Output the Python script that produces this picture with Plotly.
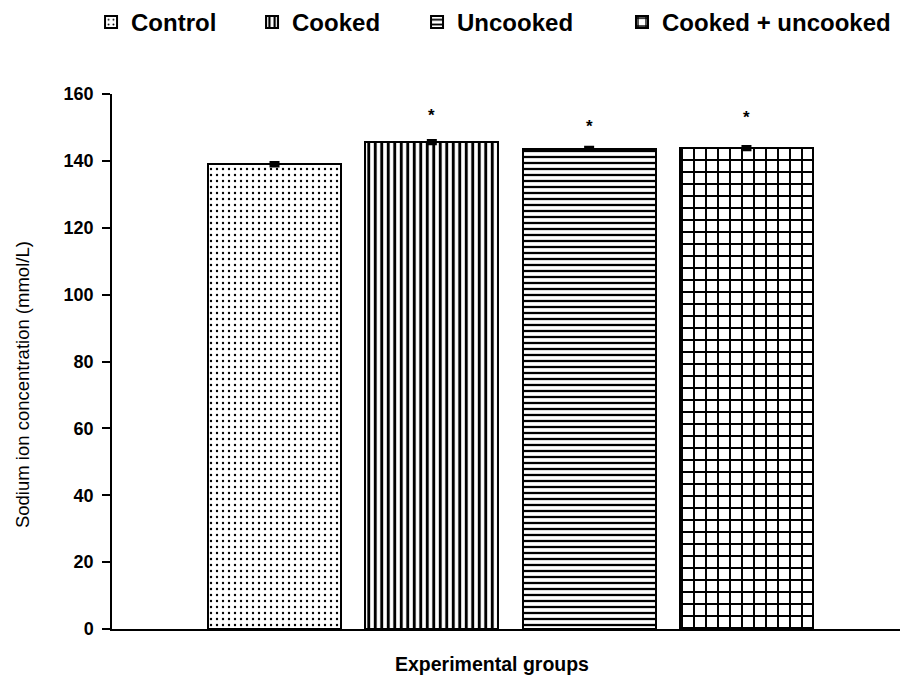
import plotly.graph_objects as go

groups = ["Control", "Cooked", "Uncooked", "Cooked + uncooked"]
sodium = [139.0, 145.6, 143.6, 143.8]
sodium_err = [0.5, 0.5, 0.5, 0.5]
significant = [False, True, True, True]
y_ticks = [0, 20, 40, 60, 80, 100, 120, 140, 160]
x_title = "Experimental groups"
y_title = "Sodium ion concentration (mmol/L)"

# styling
patterns = [".", "|", "-", "+"]
pat_size = [6, 6.5, 6, 12]
pat_solid = [0.12, 0.45, 0.38, 0.3]
star_offset = [0, 7.9, 6.6, 9.3]
legend_x = [-0.0266, 0.1777, 0.3871, 0.6472]
legend_names = ["legend", "legend2", "legend3", "legend4"]
FONT = "Liberation Sans"

fig = go.Figure()
for i, g in enumerate(groups):
    fig.add_trace(go.Bar(
        x=[i + 1], y=[sodium[i]], name=g, width=0.846, legend=legend_names[i],
        marker=dict(color="white",
                    line=dict(color="black", width=2),
                    pattern=dict(shape=patterns[i], fgcolor="black", bgcolor="white",
                                 size=pat_size[i], solidity=pat_solid[i], fillmode="replace")),
        error_y=dict(type="data", array=[sodium_err[i]], color="black", thickness=3, width=5),
    ))
    if significant[i]:
        fig.add_annotation(x=i + 1, y=sodium[i] + star_offset[i], text="<b>*</b>",
                           showarrow=False, font=dict(family=FONT, size=17, color="black"),
                           yanchor="middle")

# axis titles as annotations (placed as in the reference)
fig.add_annotation(xref="paper", yref="paper", x=0.482, y=-0.0654, text=x_title,
                   showarrow=False, xanchor="center", yanchor="middle",
                   font=dict(family=FONT, size=19.5, color="black", weight="bold"))
fig.add_annotation(xref="paper", yref="paper", x=-0.1142, y=0.456, text=y_title,
                   showarrow=False, xanchor="center", yanchor="middle", textangle=-90,
                   font=dict(family=FONT, size=18.5, color="black"))

legend_common = dict(orientation="v", xanchor="left", y=1.1336, yanchor="middle",
                     font=dict(family=FONT, size=24, color="black", weight="bold"),
                     bgcolor="rgba(0,0,0,0)", borderwidth=0)
layout_legends = {name: dict(x=legend_x[i], **legend_common) for i, name in enumerate(legend_names)}

fig.update_layout(
    width=901, height=681,
    margin=dict(l=112, r=1, t=94, b=52, autoexpand=False),
    plot_bgcolor="white", paper_bgcolor="white",
    font=dict(family=FONT, color="black"),
    showlegend=True,
    bargap=0,
    **layout_legends,
)
fig.update_xaxes(range=[-0.033, 4.976], showline=True, linecolor="black", linewidth=1.5,
                 showticklabels=False, ticks="", showgrid=False, zeroline=False,
                 automargin=False)
fig.update_yaxes(range=[0, 160], tickvals=y_ticks, showline=True, linecolor="black",
                 linewidth=1.5, ticks="outside", ticklen=8, tickwidth=1.5, tickcolor="black",
                 showgrid=False, zeroline=False, automargin=False, ticklabelstandoff=5,
                 tickfont=dict(family=FONT, size=18, color="black", weight="bold"))

fig.write_html("out.html", config={"displayModeBar": False},
               post_script="document.body.style.margin='0';")
